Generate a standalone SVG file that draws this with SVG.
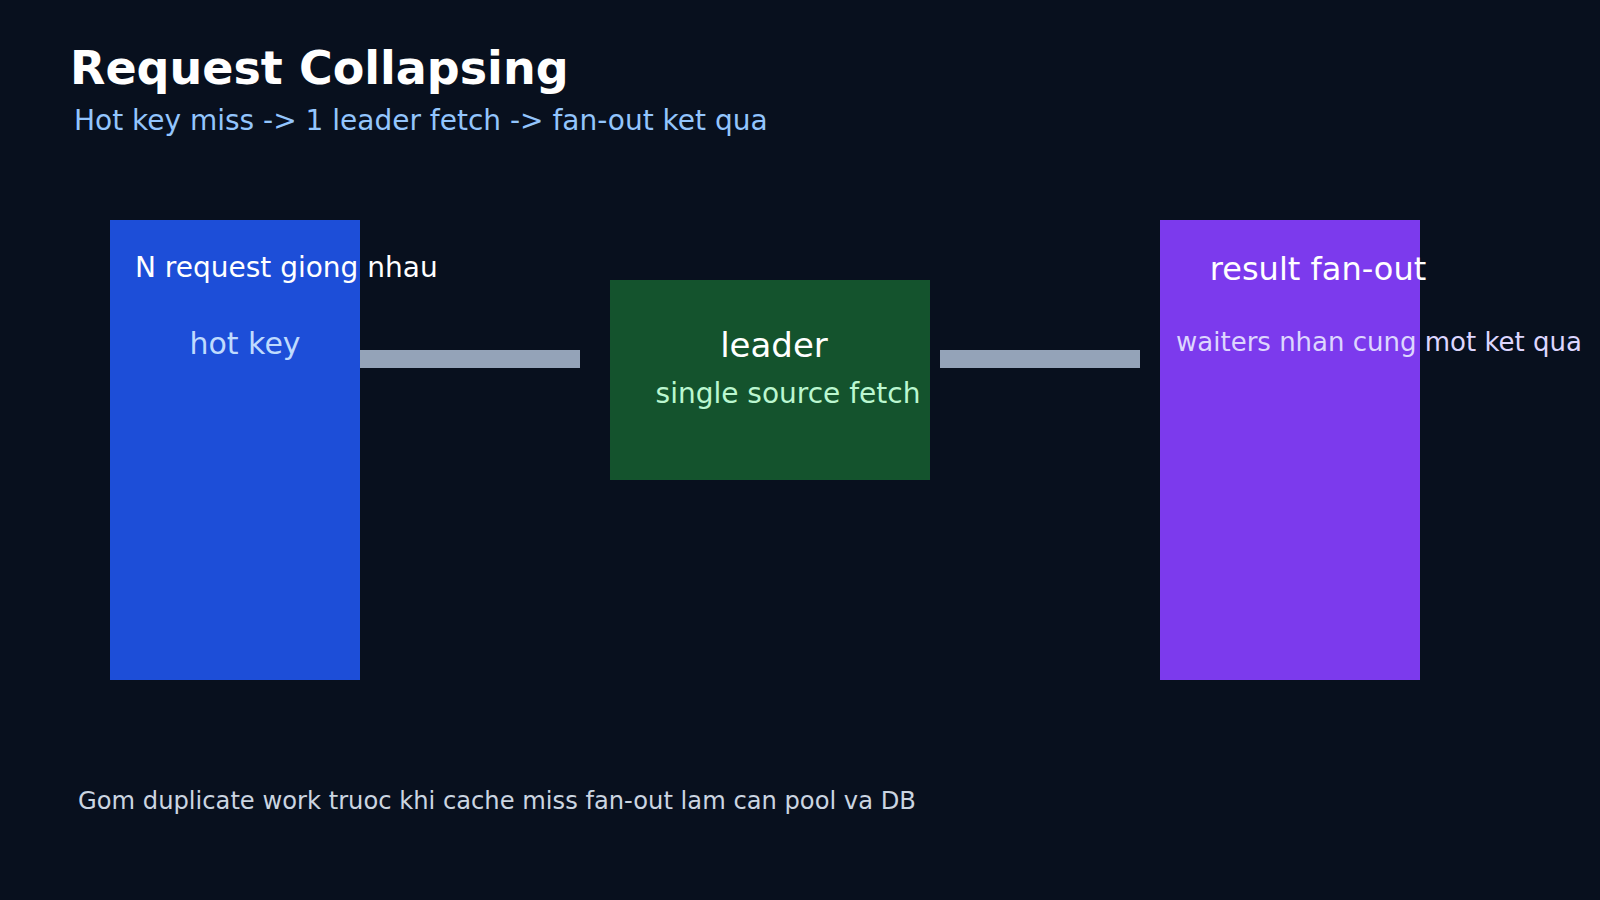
<svg xmlns="http://www.w3.org/2000/svg" width="1600" height="900" viewBox="0 0 1600 900">
<style>
text{font-family:"DejaVu Sans","Liberation Sans",sans-serif}
.title{font-size:46px;font-weight:bold;fill:#ffffff}
.sub{font-size:28px;fill:#93c5fd}
.nt{font-size:28px;fill:#ffffff}
.big{font-size:32px;fill:#ffffff}
.foot{font-size:24.2px;fill:#cbd5e1}
.conn{fill:#94a3b8}
</style>
<rect width="1600" height="900" fill="#08101e"/>
<text class="title" x="70" y="84">Request Collapsing</text>
<text class="sub" x="74" y="130">Hot key miss -&gt; 1 leader fetch -&gt; fan-out ket qua</text>
<g id="connectors">
<rect class="conn" x="360" y="350" width="220" height="18"/>
<rect class="conn" x="940" y="350" width="200" height="18"/>
</g>
<g id="requests">
<rect x="110" y="220" width="250" height="460" fill="#1d4ed8"/>
<text class="nt" x="135" y="277">N request giong nhau</text>
<text x="245" y="354" text-anchor="middle" style="font-size:30px;fill:#bfdbfe">hot key</text>
</g>
<g id="leader">
<rect x="610" y="280" width="320" height="200" fill="#14532d"/>
<text class="big" x="774" y="357" text-anchor="middle" style="font-size:34px">leader</text>
<text x="788" y="403" text-anchor="middle" style="font-size:28px;fill:#bbf7d0">single source fetch</text>
</g>
<g id="fanout">
<rect x="1160" y="220" width="260" height="460" fill="#7c3aed"/>
<text class="big" x="1318" y="280" text-anchor="middle">result fan-out</text>
<text x="1379" y="351" text-anchor="middle" style="font-size:26px;fill:#ddd6fe">waiters nhan cung mot ket qua</text>
</g>
<text class="foot" x="78" y="809">Gom duplicate work truoc khi cache miss fan-out lam can pool va DB</text>
</svg>
